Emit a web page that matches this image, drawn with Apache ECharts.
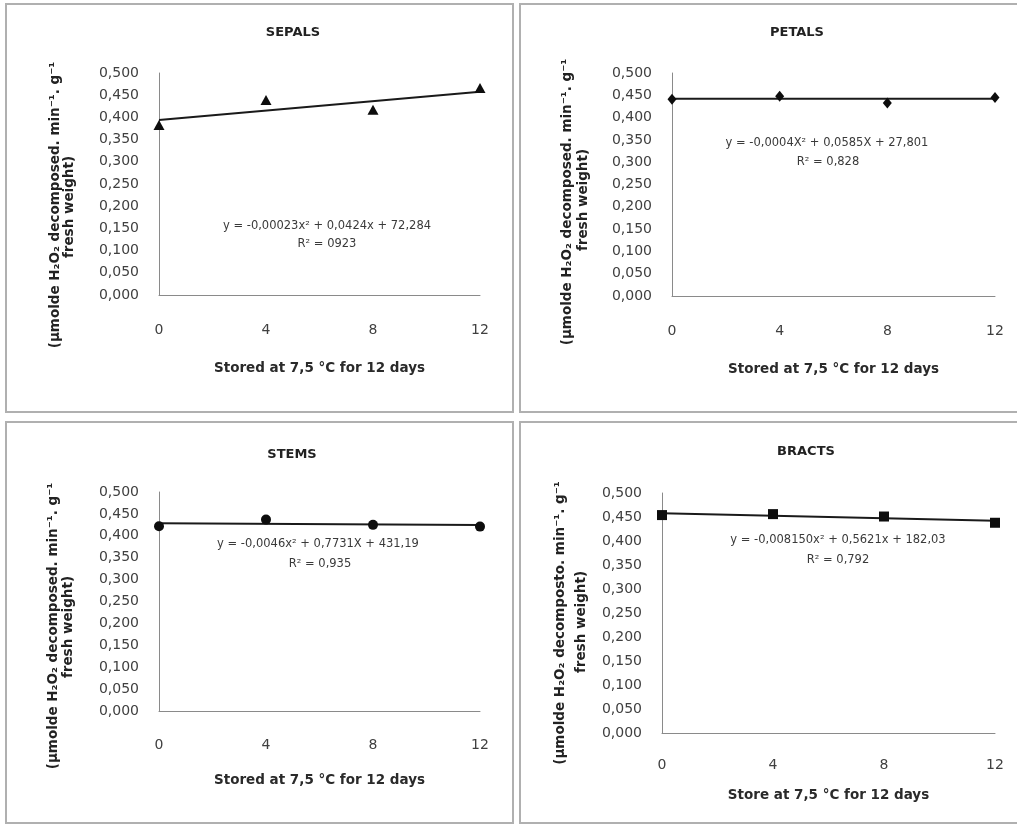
<!DOCTYPE html>
<html><head><meta charset="utf-8">
<script src="https://cdn.jsdelivr.net/npm/echarts/dist/echarts.min.js"></script>
<style>html,body{margin:0;padding:0;background:#fff}#c{width:1017px;height:825px}</style>
</head><body><div id="c"></div>
<script>
// ---- data ----
const days = [0, 4, 8, 12];
const sepals = [0.383, 0.439, 0.417, 0.466];
const petals = [0.441, 0.448, 0.433, 0.445];
const stems  = [0.422, 0.437, 0.425, 0.421];
const bracts = [0.454, 0.456, 0.451, 0.438];
const trendDays = [0, 12];
const sepalsTrend = [0.394, 0.458];
const petalsTrend = [0.442, 0.442];
const stemsTrend  = [0.4285, 0.4247];
const bractsTrend = [0.4577, 0.4423];
const panelTitles = ['SEPALS', 'PETALS', 'STEMS', 'BRACTS'];
const xTitles = ['Stored at 7,5 °C for 12 days', 'Stored at 7,5 °C for 12 days', 'Stored at 7,5 °C for 12 days', 'Store at 7,5 °C for 12 days'];
const yTitleLine1 = ['(µmolde H₂O₂ decomposed. min⁻¹. g⁻¹', '(µmolde H₂O₂ decomposed. min⁻¹. g⁻¹', '(µmolde H₂O₂ decomposed. min⁻¹. g⁻¹', '(µmolde H₂O₂ decomposto. min⁻¹. g⁻¹'];
const yTitleLine2 = ['fresh weight)', 'fresh weight)', 'fresh weight)', 'fresh weight)'];
const equations = ['y = -0,00023x² + 0,0424x + 72,284', 'y = -0,0004X² + 0,0585X + 27,801', 'y = -0,0046x² + 0,7731X + 431,19', 'y = -0,008150x² + 0,5621x + 182,03'];
const r2Texts = ['R² = 0923', 'R² = 0,828', 'R² = 0,935', 'R² = 0,792'];

// ---- layout ----
const FONT = 'DejaVu Sans';
const values = [sepals, petals, stems, bracts];
const trends = [sepalsTrend, petalsTrend, stemsTrend, bractsTrend];
const symbols = ['triangle', 'diamond', 'circle', 'rect'];
const symbolSizes = [[11, 10], [9, 11], 10, 10];
const grids = [
  {left: 159, top: 73, width: 321, height: 222},
  {left: 672, top: 73, width: 323, height: 223},
  {left: 159, top: 492, width: 321, height: 219},
  {left: 662, top: 493, width: 333, height: 240}
];
const xLabelMargin = [28, 28, 27, 25];
const xNameGap = [66, 66, 62, 55];
const titlePos = [[293, 33], [797, 33], [292, 455], [806, 452]];
const yT1 = [[55, 205], [567, 202], [53, 626], [560, 623]];
const yT2 = [[69, 207], [583, 200], [68, 627], [581, 622]];
const eqPos = [[327, 226], [827, 143], [318, 544], [838, 540]];
const r2Pos = [[327, 244], [828, 162], [320, 564], [838, 560]];
const borders = [
  {x: 6, y: 4, width: 507, height: 408},
  {x: 520, y: 4, width: 510, height: 408},
  {x: 6, y: 422, width: 507, height: 401},
  {x: 520, y: 422, width: 510, height: 401}
];

const xAxes = [], yAxes = [], series = [], graphic = [];
for (let i = 0; i < 4; i++) {
  xAxes.push({
    gridIndex: i, type: 'value', min: 0, max: 12, interval: 4,
    axisLine: {show: true, lineStyle: {color: '#8a8a8a', width: 1}},
    axisTick: {show: false}, splitLine: {show: false},
    axisLabel: {color: '#404040', fontFamily: FONT, fontSize: 14, margin: xLabelMargin[i]},
    name: xTitles[i], nameLocation: 'middle', nameGap: xNameGap[i],
    nameTextStyle: {color: '#2a2a2a', fontFamily: FONT, fontSize: 13.5, fontWeight: 'bold'}
  });
  yAxes.push({
    gridIndex: i, type: 'value', min: 0, max: 0.5, interval: 0.05,
    axisLine: {show: true, lineStyle: {color: '#8a8a8a', width: 1}},
    axisTick: {show: false}, splitLine: {show: false},
    axisLabel: {color: '#404040', fontFamily: FONT, fontSize: 14, margin: 20,
      formatter: v => v.toFixed(3).replace('.', ',')}
  });
  series.push({
    type: 'line', xAxisIndex: i, yAxisIndex: i, showSymbol: false, silent: true,
    data: trendDays.map((d, k) => [d, trends[i][k]]),
    lineStyle: {color: '#1a1a1a', width: 2}, z: 2
  });
  series.push({
    type: 'scatter', xAxisIndex: i, yAxisIndex: i,
    symbol: symbols[i], symbolSize: symbolSizes[i],
    data: days.map((d, k) => [d, values[i][k]]),
    itemStyle: {color: '#0d0d0d', opacity: 1}, z: 3
  });
  graphic.push({type: 'rect', shape: borders[i], style: {fill: 'none', stroke: '#b0b0b0', lineWidth: 2}, silent: true});
  graphic.push({type: 'text', x: titlePos[i][0], y: titlePos[i][1],
    style: {text: panelTitles[i], font: 'bold 13px "' + FONT + '"', fill: '#222', textAlign: 'center', textVerticalAlign: 'middle'}});
  graphic.push({type: 'text', x: yT1[i][0], y: yT1[i][1], rotation: Math.PI / 2,
    style: {text: yTitleLine1[i], font: 'bold 13.5px "' + FONT + '"', fill: '#222', textAlign: 'center', textVerticalAlign: 'middle'}});
  graphic.push({type: 'text', x: yT2[i][0], y: yT2[i][1], rotation: Math.PI / 2,
    style: {text: yTitleLine2[i], font: 'bold 13.5px "' + FONT + '"', fill: '#222', textAlign: 'center', textVerticalAlign: 'middle'}});
  graphic.push({type: 'text', x: eqPos[i][0], y: eqPos[i][1],
    style: {text: equations[i], font: '11.5px "' + FONT + '"', fill: '#3a3a3a', textAlign: 'center', textVerticalAlign: 'middle'}});
  graphic.push({type: 'text', x: r2Pos[i][0], y: r2Pos[i][1],
    style: {text: r2Texts[i], font: '11.5px "' + FONT + '"', fill: '#3a3a3a', textAlign: 'center', textVerticalAlign: 'middle'}});
}

const chart = echarts.init(document.getElementById('c'), null, {renderer: 'canvas'});
chart.setOption({
  animation: false,
  backgroundColor: '#fff',
  grid: grids,
  xAxis: xAxes,
  yAxis: yAxes,
  series: series,
  graphic: graphic
});
</script>
</body></html>
